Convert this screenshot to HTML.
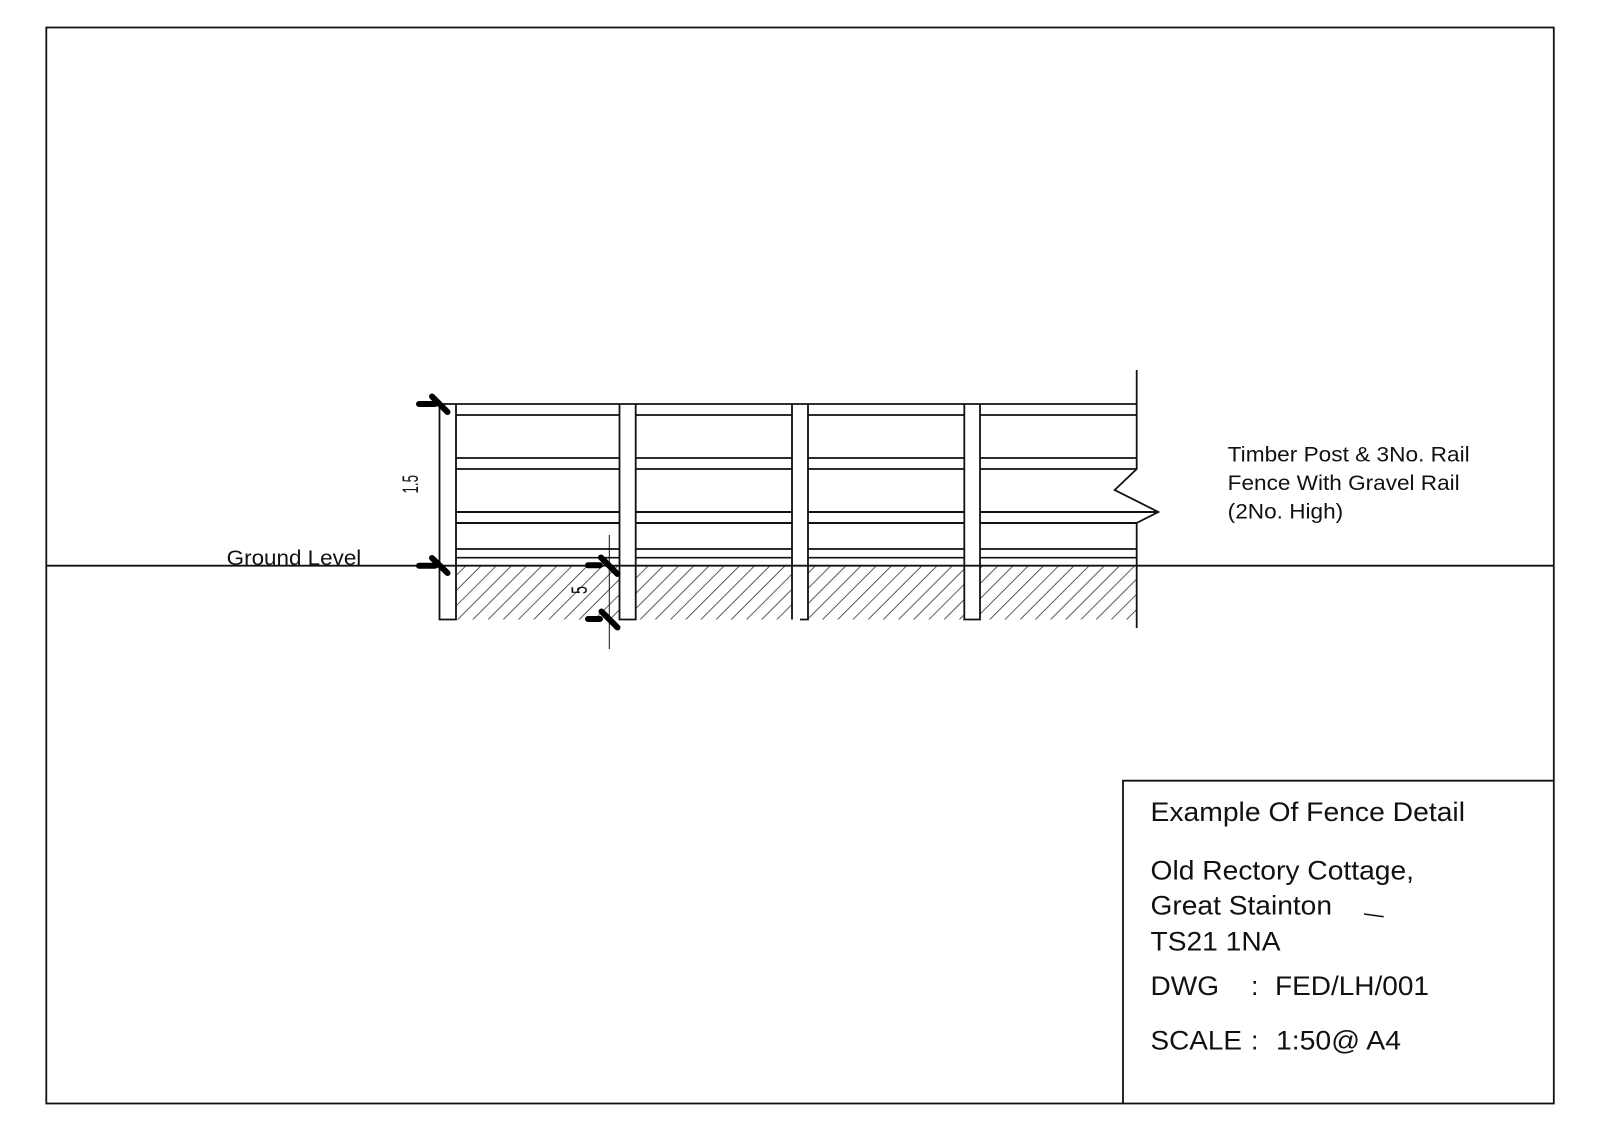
<!DOCTYPE html>
<html>
<head>
<meta charset="utf-8">
<style>
html,body{margin:0;padding:0;background:#fff;width:1600px;height:1130px;overflow:hidden}
svg{display:block}
text{font-family:"Liberation Sans",sans-serif;fill:#111}
</style>
</head>
<body>
<svg width="1600" height="1130" viewBox="0 0 1600 1130" xmlns="http://www.w3.org/2000/svg">
<defs>
<pattern id="h" patternUnits="userSpaceOnUse" width="10" height="10.75" patternTransform="translate(1077.2 0) rotate(-45)">
<rect x="0" y="0" width="10" height="0.4" fill="#333"/>
<rect x="0" y="10.35" width="10" height="0.4" fill="#333"/>
</pattern>
</defs>
<rect width="1600" height="1130" fill="#fff"/>

<!-- hatch -->
<rect x="456" y="566" width="680.7" height="53.5" fill="url(#h)"/>

<!-- frame -->
<rect x="46.3" y="27.5" width="1507.5" height="1076" fill="none" stroke="#111" stroke-width="1.8"/>
<path d="M1123 1103.5V780.7H1553.8" fill="none" stroke="#111" stroke-width="1.8"/>

<!-- rails -->
<g stroke="#111" stroke-width="1.7" fill="none">
<path d="M456 415H1136.7M456 458H1136.7M456 469H1136.7M456 549H1136.7M456 557.7H1136.7"/>
<path d="M456 512H1158.3M456 523H1136.7" stroke-width="2"/>
</g>

<!-- posts -->
<g fill="#fff" stroke="none">
<rect x="439.5" y="404.8" width="16.5" height="214.7"/>
<rect x="619.5" y="404.8" width="16.2" height="214.7"/>
<rect x="792" y="404.8" width="16" height="214.7"/>
<rect x="964.3" y="404.8" width="15.7" height="214.7"/>
</g>
<g stroke="#111" stroke-width="1.8" fill="none">
<path d="M439.5 404V619.5H456V404"/>
<path d="M619.5 404V619.5H635.7V404"/>
<path d="M792 404V619.5M808 404V619.5H800"/>
<path d="M964.3 404V619.5H980V404"/>
</g>
<path d="M439.5 404H1136.7" stroke="#111" stroke-width="1.7" fill="none"/>

<!-- right break line -->
<path d="M1136.7 370V469L1114.7 490L1158.3 512L1136.7 523V628" fill="none" stroke="#111" stroke-width="1.8"/>

<!-- ground -->
<path d="M46.3 565.7H1553.8" stroke="#111" stroke-width="1.8" fill="none"/>

<!-- dimension line -->
<path d="M609.3 535V649" stroke="#111" stroke-width="1" fill="none"/>

<!-- ticks -->
<g stroke="#000" stroke-width="6" stroke-linecap="round" fill="none">
<path d="M419 404H435M432 396.5L447.5 412"/>
<path d="M419 565.7H435M432 558L447.5 573"/>
<path d="M588 565.3H600M601 557.5L617.5 574"/>
<path d="M588 619H600M601.5 611.5L617.5 627.5"/>
</g>

<!-- stray mark -->
<path d="M1364 914L1383.7 916.7" stroke="#111" stroke-width="1.5" fill="none"/>

<!-- labels -->
<text x="226.7" y="565" font-size="21" textLength="134.6" lengthAdjust="spacingAndGlyphs">Ground Level</text>
<text transform="translate(418 493.5) rotate(-90)" font-size="22" textLength="18.5" lengthAdjust="spacingAndGlyphs">1.5</text>
<text transform="translate(587 594) rotate(-90)" font-size="22" textLength="8" lengthAdjust="spacingAndGlyphs">5</text>

<text x="1227.7" y="461.7" font-size="21" textLength="242" lengthAdjust="spacingAndGlyphs">Timber Post &amp; 3No. Rail</text>
<text x="1227.7" y="490" font-size="21" textLength="232" lengthAdjust="spacingAndGlyphs">Fence With Gravel Rail</text>
<text x="1227.7" y="518.7" font-size="21" textLength="115.5" lengthAdjust="spacingAndGlyphs">(2No. High)</text>

<text x="1150.5" y="821" font-size="27" textLength="314.5" lengthAdjust="spacingAndGlyphs">Example Of Fence Detail</text>
<text x="1150.5" y="879.3" font-size="27" textLength="263.5" lengthAdjust="spacingAndGlyphs">Old Rectory Cottage,</text>
<text x="1150.5" y="914.7" font-size="27" textLength="181.5" lengthAdjust="spacingAndGlyphs">Great Stainton</text>
<text x="1150.5" y="950.3" font-size="27" textLength="130" lengthAdjust="spacingAndGlyphs">TS21 1NA</text>
<text x="1150.5" y="995" font-size="27" textLength="68.5" lengthAdjust="spacingAndGlyphs">DWG</text>
<text x="1251" y="995" font-size="27">:</text>
<text x="1275" y="995" font-size="27" textLength="154" lengthAdjust="spacingAndGlyphs">FED/LH/001</text>
<text x="1150.5" y="1049.7" font-size="27" textLength="91.5" lengthAdjust="spacingAndGlyphs">SCALE</text>
<text x="1251" y="1049.7" font-size="27">:</text>
<text x="1276" y="1049.7" font-size="27" textLength="125" lengthAdjust="spacingAndGlyphs">1:50@ A4</text>
</svg>
</body>
</html>
